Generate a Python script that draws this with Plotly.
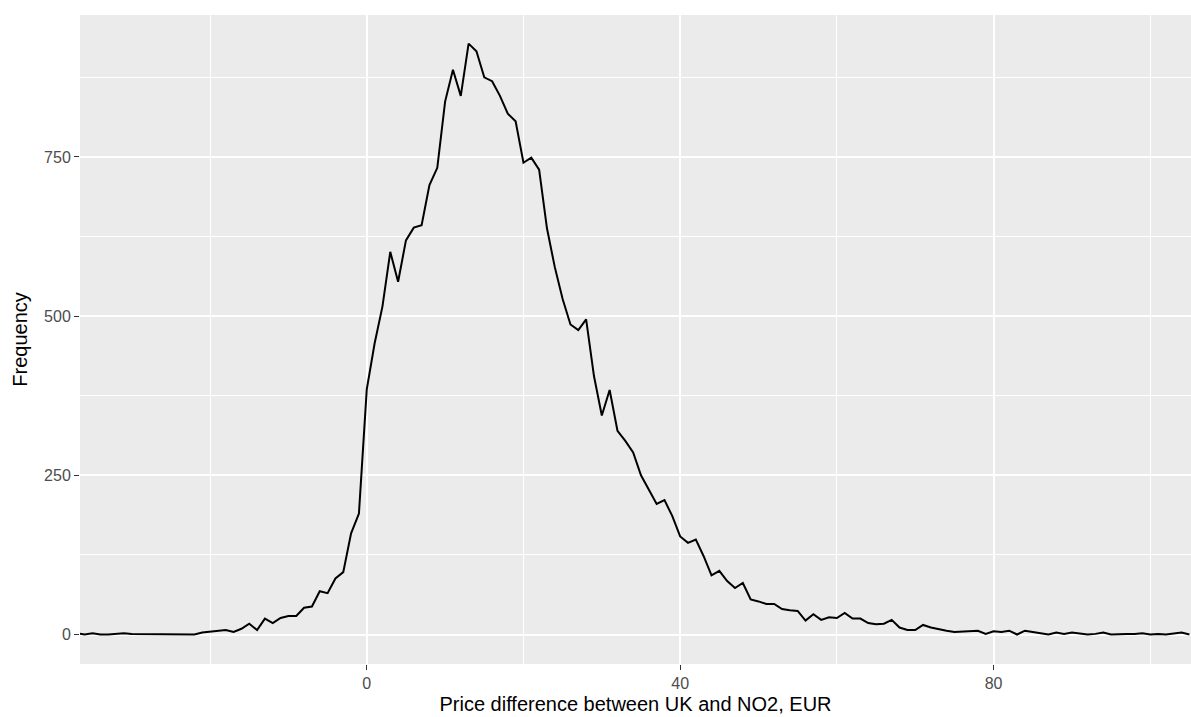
import plotly.graph_objects as go

# Bin centres (EUR) and frequencies
price_bins = list(range(-37, 106))
frequency = [
    2, 0, 2, 0, 0, 1, 2, 1, 1, 0,          # -37 .. -28
    0, 1, 1, 0, 0, 0, 3, 4, 5, 7,          # -27 .. -18
    4, 9, 17, 7, 25, 18, 26, 29, 29, 42,   # -17 .. -8
    44, 68, 65, 88, 98, 159, 190,          # -7 .. -1
    385, 457, 515, 601, 554, 619, 639, 643, 706, 733,   # 0 .. 9
    837, 887, 846, 928, 916, 875, 869, 846, 818, 806,   # 10 .. 19
    741, 749, 730, 638, 577, 527, 487, 478, 495, 406,   # 20 .. 29
    344, 384, 320, 304, 286, 250, 227, 205, 211, 186,   # 30 .. 39
    154, 144, 149, 123, 93, 100, 84, 73, 81, 55,        # 40 .. 49
    52, 48, 48, 40, 38, 37, 22, 32, 23, 27,             # 50 .. 59
    26, 34, 25, 25, 18, 16, 17, 23, 11, 7,              # 60 .. 69
    7, 15, 11, 8, 6, 4, 5, 5, 6, 1,                     # 70 .. 79
    5, 4, 6, 0, 6, 4, 2, 0, 3, 1,                       # 80 .. 89
    3, 1, 0, 1, 3, 0, 1, 1, 1, 2,                       # 90 .. 99
    0, 1, 0, 2, 3, 0,                                   # 100 .. 105
]

x_ticks = [0, 40, 80]
y_ticks = [0, 250, 500, 750]

fig = go.Figure()
fig.add_trace(go.Scatter(
    x=price_bins, y=frequency, mode="lines",
    line=dict(color="black", width=2),
    hoverinfo="x+y", showlegend=False,
))

font = "Liberation Sans, Arial, Helvetica, sans-serif"

fig.update_layout(
    width=1191, height=717,
    margin=dict(l=80, r=0, t=15, b=53),
    paper_bgcolor="white",
    plot_bgcolor="#EBEBEB",
    font=dict(family=font, size=16, color="#4D4D4D"),
    showlegend=False,
)

fig.update_xaxes(
    range=[-36.6, 105.2],
    tickmode="array", tickvals=x_ticks, ticktext=[str(v) for v in x_ticks],
    showgrid=True, gridcolor="white", gridwidth=1.6,
    minor=dict(showgrid=True, gridcolor="white", gridwidth=0.8,
               tickmode="array", tickvals=[-20, 20, 60, 100]),
    zeroline=False, showline=False,
    ticks="outside", ticklen=5, tickwidth=1.3, tickcolor="#333333",
    tickfont=dict(size=16, color="#4D4D4D"),
    title=dict(text="Price difference between UK and NO2, EUR",
               font=dict(size=20, color="black"), standoff=5),
    automargin=False,
)

fig.update_yaxes(
    range=[-46.3, 973],
    tickmode="array", tickvals=y_ticks, ticktext=[str(v) for v in y_ticks],
    showgrid=True, gridcolor="white", gridwidth=1.6,
    minor=dict(showgrid=True, gridcolor="white", gridwidth=0.8,
               tickmode="array", tickvals=[125, 375, 625, 875]),
    zeroline=False, showline=False,
    ticks="outside", ticklen=5, tickwidth=1.3, tickcolor="#333333",
    tickfont=dict(size=16, color="#4D4D4D"),
    title=dict(text="Frequency", font=dict(size=20, color="black"), standoff=11),
    automargin=False,
)

fig.write_html("out.html")
